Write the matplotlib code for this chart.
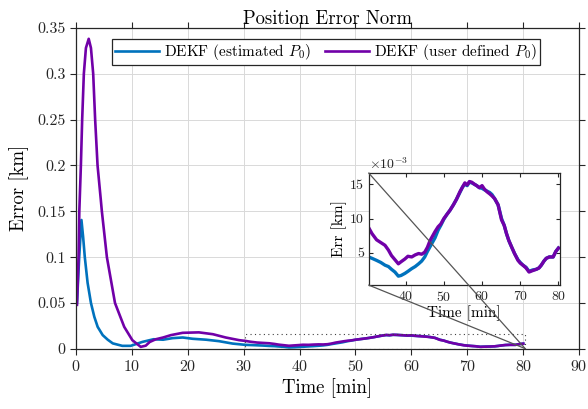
import matplotlib
matplotlib.use("Agg")
import matplotlib.pyplot as plt
import numpy as np
from matplotlib.ticker import FuncFormatter
from matplotlib.patches import ConnectionPatch, Rectangle

plt.rcParams['font.family'] = 'serif'
plt.rcParams['font.serif'] = ['cmr10']
plt.rcParams['mathtext.fontset'] = 'cm'
plt.rcParams['axes.unicode_minus'] = False
plt.rcParams['axes.formatter.use_mathtext'] = True

# time [min] and position error norm [km]
t_est = [0.2, 0.6, 1.0, 1.3, 1.6, 2.1, 2.7, 3.3, 3.9, 4.8, 5.7, 6.6, 8.3, 9.8, 11.9, 13.9,
         15.6, 17.3, 19.1, 20.9, 23.3, 25.6, 28.0,
         30.3, 31.2, 32.4, 33.5, 34.6, 35.5, 36.3, 37.2, 38.1, 38.8, 39.8, 40.6, 41.6, 42.5,
         43.4, 44.2, 45.0, 45.7, 46.4, 47.0, 47.7, 48.5, 49.2, 50.0, 50.8, 51.6, 52.5, 53.3,
         54.2, 54.9, 55.5, 56.1, 56.7, 57.3, 58.0, 58.6, 59.3, 60.0, 60.6, 61.3, 62.0, 62.6,
         63.3, 64.2, 65.1, 65.8, 66.4, 67.0, 67.7, 68.5, 69.4, 70.0, 70.7, 71.5, 72.3, 73.2,
         74.2, 74.9, 75.5, 76.2, 76.8, 77.6, 78.6, 79.3, 80.0]
err_est = [0.05, 0.10, 0.1405, 0.122, 0.10, 0.072, 0.05, 0.035, 0.024, 0.015, 0.010, 0.006,
           0.0033, 0.0033, 0.0076, 0.0105, 0.010, 0.0117, 0.0124, 0.011, 0.010, 0.0084, 0.0058,
           0.0044, 0.0042, 0.0039, 0.0036, 0.0032, 0.0030, 0.0026, 0.0022, 0.0016, 0.0017,
           0.0020, 0.0023, 0.0027, 0.0030, 0.0034, 0.0038, 0.0044, 0.0052, 0.0059, 0.0065,
           0.0072, 0.0083, 0.0090, 0.0099, 0.0106, 0.0112, 0.0120, 0.0128, 0.0138, 0.0146,
           0.0150, 0.0148, 0.0153, 0.0152, 0.0150, 0.0148, 0.0145, 0.0144, 0.0142, 0.0140,
           0.0138, 0.0135, 0.0129, 0.0120, 0.0100, 0.0090, 0.0078, 0.0068, 0.0059, 0.0049,
           0.0040, 0.0036, 0.0032, 0.0029, 0.0023, 0.0025, 0.0026, 0.0028, 0.0032, 0.0038,
           0.0042, 0.0044, 0.0044, 0.0052, 0.0057]

t_usr = [0.2, 0.35, 0.48, 0.62, 0.9, 1.13, 1.43, 1.8, 2.3, 2.7, 3.1, 3.45, 3.88, 4.47, 4.65,
         5.55, 7.0, 8.65, 10.1, 11.6, 12.5, 13.2, 14.3, 15.6, 17.0, 19.1, 22.0, 24.5,
         26.8, 29.2,
         30.3, 31.2, 32.4, 33.5, 34.6, 35.5, 36.3, 37.2, 38.1, 38.8, 39.8, 40.6, 41.6, 42.5,
         43.4, 44.2, 45.0, 45.7, 46.4, 47.0, 47.7, 48.5, 49.2, 50.0, 50.8, 51.6, 52.5, 53.3,
         54.2, 54.9, 55.5, 56.1, 56.7, 57.3, 58.0, 58.6, 59.3, 60.0, 60.6, 61.3, 62.0, 62.6,
         63.3, 64.2, 65.1, 65.8, 66.4, 67.0, 67.7, 68.5, 69.4, 70.0, 70.7, 71.5, 72.3, 73.2,
         74.2, 74.9, 75.5, 76.2, 76.8, 77.6, 78.6, 79.3, 80.0]
err_usr = [0.048, 0.075, 0.10, 0.15, 0.20, 0.25, 0.30, 0.328, 0.338, 0.328, 0.30, 0.25,
           0.20, 0.162, 0.15, 0.10, 0.05, 0.024, 0.0095, 0.0022, 0.0035, 0.0075, 0.0105,
           0.0124, 0.015, 0.0175, 0.018, 0.016, 0.0124, 0.0095,
           0.0087, 0.0078, 0.0069, 0.0065, 0.0061, 0.0054, 0.0046, 0.0040, 0.0034, 0.0037,
           0.0041, 0.0045, 0.0044, 0.0047, 0.0049, 0.0048, 0.0051, 0.0058, 0.0068, 0.0074,
           0.0081, 0.0088, 0.0092, 0.0100, 0.0106, 0.0112, 0.0120, 0.0128, 0.0139, 0.0146,
           0.0152, 0.0149, 0.0154, 0.0153, 0.0150, 0.0148, 0.0145, 0.0148, 0.0143, 0.0139,
           0.0136, 0.0133, 0.0129, 0.0120, 0.0098, 0.0090, 0.0078, 0.0068, 0.0059, 0.0049,
           0.0039, 0.0035, 0.0032, 0.0028, 0.0022, 0.0024, 0.0026, 0.0028, 0.0032, 0.0038,
           0.0042, 0.0044, 0.0044, 0.0052, 0.0057]

labels = [r'DEKF (estimated $P_0$)', r'DEKF (user defined $P_0$)']
c_est = '#0072BD'
c_usr = '#7100A8'

fig = plt.figure(figsize=(5.88, 4.09), dpi=100)
ax = fig.add_axes([0.129, 0.147, 0.856, 0.785])

ax.plot(t_est, err_est, color=c_est, lw=1.9, label=labels[0])
ax.plot(t_usr, err_usr, color=c_usr, lw=1.9, label=labels[1])

ax.set_xlim(0, 90)
ax.set_ylim(0, 0.35)
ax.set_xticks(np.arange(0, 91, 10))
ax.set_yticks(np.arange(0, 0.351, 0.05))
ax.yaxis.set_major_formatter(FuncFormatter(lambda v, p: f'{v:g}'))
ax.tick_params(direction='out', length=4, width=0.8, top=True, right=True,
               labelsize=11.5, colors='#262626', labelcolor='#262626')
ax.grid(True, color='#d9d9d9', lw=0.7)
for s in ax.spines.values():
    s.set_color('#262626')
    s.set_linewidth(0.9)
ax.set_title('Position Error Norm', fontsize=13.5, pad=3)
ax.set_xlabel('Time [min]', fontsize=13.5, labelpad=3)
ax.set_ylabel('Error [km]', fontsize=13.5, labelpad=6)

leg = ax.legend(loc='upper left', bbox_to_anchor=(0.072, 0.965), ncol=2, fontsize=11,
                fancybox=False, framealpha=1, edgecolor='#262626', handlelength=2.9,
                borderpad=0.2, borderaxespad=0, columnspacing=0.9, handletextpad=0.3)
leg.get_frame().set_linewidth(0.9)

# zoom region
x0, x1 = 30.33, 80.34
y0, y1 = 0.0003, 0.01664
ax.add_patch(Rectangle((x0, y0), x1 - x0, y1 - y0, fill=False, ls=(0, (1, 3)),
                       lw=0.8, ec='#404040', zorder=4))

ins = fig.add_axes([0.627, 0.303, 0.325, 0.274])
ins.plot(t_est, err_est, color=c_est, lw=2.4)
ins.plot(t_usr, err_usr, color=c_usr, lw=2.4)
ins.set_xlim(x0, x1)
ins.set_ylim(y0, y1)
ins.set_xticks([40, 50, 60, 70, 80])
ins.set_yticks([0.005, 0.010, 0.015])
ins.yaxis.set_major_formatter(FuncFormatter(lambda v, p: f'{v * 1e3:g}'))
ins.tick_params(direction='in', length=3, width=0.8, top=True, right=True,
                labelsize=10, colors='#262626', labelcolor='#262626')
for s in ins.spines.values():
    s.set_color('#262626')
    s.set_linewidth(0.9)
ins.set_xlabel('Time [min]', fontsize=11, labelpad=1)
ins.set_ylabel('Err [km]', fontsize=11, labelpad=2)
ins.text(0.0, 1.01, r'$\times10^{-3}$', transform=ins.transAxes, fontsize=10,
         ha='left', va='bottom', color='#262626')

for yc in (y1, y0):
    con = ConnectionPatch(xyA=(x0, yc), coordsA=ins.transData, xyB=(x1, y0), coordsB=ax.transData,
                          color='#555555', lw=0.9, zorder=10)
    con.set_clip_on(False)
    ins.add_artist(con)

fig.savefig('out.png', dpi=100)
